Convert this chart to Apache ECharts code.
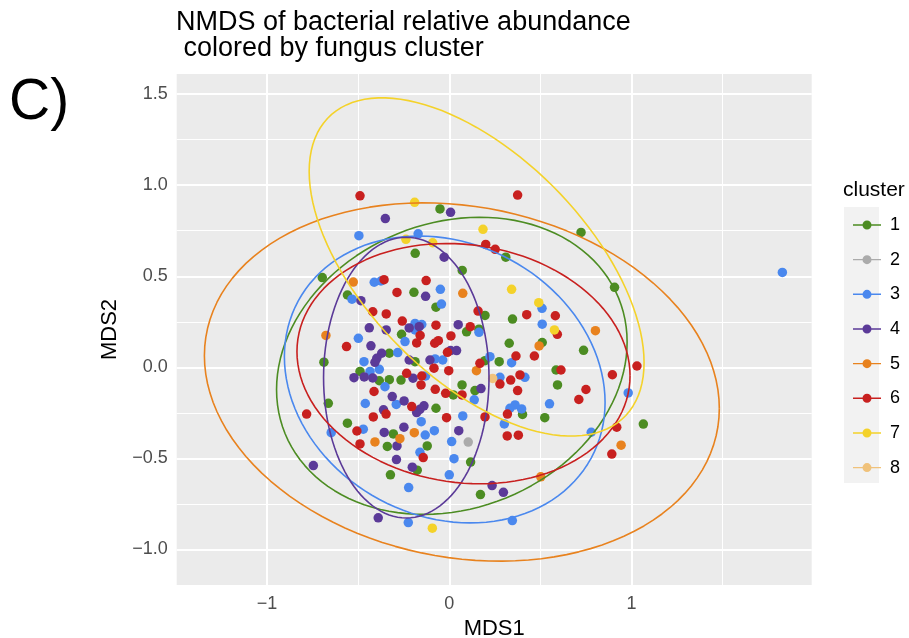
<!DOCTYPE html>
<html>
<head>
<meta charset="utf-8">
<script src="https://cdn.jsdelivr.net/npm/echarts@6/dist/echarts.min.js"></script>
<style>
html,body{margin:0;padding:0;background:#fff;}
#chart{width:909px;height:638px;}
</style>
</head>
<body>
<div id="chart"></div>
<script>
// ---- data (MDS1, MDS2) per fungus cluster ----
const CLUSTERS = ['1','2','3','4','5','6','7','8'];
const COLORS = ['#4C8C22','#ABABAB','#4A88EE','#5B3A98','#E8821E','#C8201F','#F4D22A','#F0C27B'];

const CLUSTER_1 = [[-0.697,0.493],[-0.559,0.397],[-0.688,0.028],[-0.664,-0.198],[-0.559,-0.307],[-0.490,-0.023],[-0.384,-0.074],[-0.329,-0.068],[-0.329,0.077],[-0.265,-0.070],[-0.307,-0.366],[-0.340,-0.435],[-0.323,-0.591],[-0.051,0.870],[-0.187,0.626],[0.071,0.532],[-0.194,0.412],[-0.073,0.330],[-0.262,0.181],[0.095,0.195],[-0.188,0.031],[0.070,-0.097],[0.022,-0.152],[0.141,-0.128],[-0.073,-0.225],[-0.121,-0.432],[-0.176,-0.565],[0.117,-0.521],[0.171,-0.699],[0.196,0.285],[0.347,0.265],[0.163,0.209],[0.196,0.036],[0.274,0.031],[0.329,0.132],[0.510,0.136],[0.737,0.093],[0.586,-0.015],[0.594,-0.097],[0.402,-0.259],[0.524,-0.277],[0.310,0.605],[0.723,0.741],[0.907,0.439],[1.065,-0.312]];
const CLUSTER_2 = [[0.104,-0.411]];
const CLUSTER_3 = [[-0.496,0.723],[-0.412,0.467],[-0.375,0.474],[-0.534,0.374],[-0.499,0.159],[-0.283,0.081],[-0.468,0.031],[-0.435,-0.023],[-0.384,-0.011],[-0.353,-0.107],[-0.461,-0.199],[-0.291,-0.204],[-0.472,-0.340],[-0.648,-0.359],[-0.171,0.733],[-0.049,0.428],[-0.043,0.347],[-0.188,0.241],[-0.151,0.235],[-0.188,0.205],[-0.243,0.141],[-0.078,0.046],[-0.036,0.040],[-0.130,-0.048],[0.074,-0.267],[-0.154,-0.299],[-0.132,-0.372],[-0.082,-0.348],[0.013,-0.408],[-0.161,-0.467],[0.026,-0.502],[0.000,-0.591],[-0.223,-0.661],[-0.225,-0.853],[0.163,0.192],[0.223,0.058],[0.342,0.025],[0.278,-0.055],[0.415,-0.055],[0.137,-0.179],[0.361,-0.207],[0.333,-0.225],[0.397,-0.229],[0.550,-0.201],[0.509,0.324],[0.510,0.237],[0.302,-0.311],[0.779,-0.357],[0.982,-0.141],[0.346,-0.842],[1.828,0.521]];
const CLUSTER_4 = [[-0.351,0.817],[0.007,0.851],[-0.028,0.605],[-0.485,0.366],[-0.439,0.217],[-0.346,0.205],[-0.430,0.118],[-0.371,0.077],[-0.398,0.049],[-0.408,0.027],[-0.523,-0.057],[-0.467,-0.053],[-0.420,-0.059],[-0.361,-0.234],[-0.357,-0.358],[-0.287,-0.432],[-0.290,-0.507],[-0.746,-0.540],[-0.390,-0.827],[-0.130,0.390],[-0.220,0.216],[-0.165,0.223],[0.049,0.234],[0.007,0.092],[0.040,0.092],[-0.220,0.040],[-0.106,0.040],[-0.199,-0.060],[-0.313,-0.161],[-0.248,-0.185],[-0.139,-0.212],[-0.161,-0.231],[-0.179,-0.249],[-0.249,-0.329],[0.052,-0.348],[-0.203,-0.549],[0.174,-0.117],[0.235,-0.650],[0.297,-0.687]];
const CLUSTER_5 = [[-0.527,0.468],[-0.677,0.175],[-0.408,-0.410],[-0.271,-0.392],[-0.192,-0.359],[0.074,0.406],[0.149,-0.019],[0.493,0.117],[0.802,0.201],[0.943,-0.428],[0.502,-0.602]];
const CLUSTER_6 = [[-0.490,0.942],[0.375,0.946],[-0.358,0.481],[-0.127,0.476],[-0.287,0.411],[-0.420,0.305],[-0.346,0.293],[-0.258,0.254],[-0.564,0.114],[-0.413,-0.133],[-0.347,-0.257],[-0.417,-0.273],[-0.783,-0.257],[-0.507,-0.350],[-0.490,-0.421],[-0.073,0.231],[-0.160,0.175],[-0.179,0.134],[-0.080,0.132],[-0.060,0.146],[0.009,0.172],[-0.010,0.082],[0.115,0.223],[0.158,0.309],[-0.084,-0.005],[-0.003,-0.019],[-0.234,-0.033],[-0.151,-0.048],[-0.155,-0.097],[-0.077,-0.121],[-0.020,-0.143],[0.070,-0.152],[-0.206,-0.216],[-0.015,-0.277],[-0.143,-0.496],[0.425,0.289],[0.582,0.283],[0.593,0.181],[0.366,0.062],[0.467,0.062],[0.168,0.022],[0.613,-0.015],[0.895,-0.041],[1.030,0.007],[0.388,-0.042],[0.337,-0.070],[0.278,-0.092],[0.375,-0.128],[0.750,-0.122],[0.711,-0.177],[0.319,-0.257],[0.196,-0.273],[0.318,-0.377],[0.379,-0.373],[0.919,-0.329],[0.892,-0.477],[0.200,0.675],[0.252,0.648]];
const CLUSTER_7 = [[-0.190,0.906],[-0.238,0.703],[-0.091,0.684],[0.185,0.758],[0.342,0.428],[0.491,0.355],[0.577,0.205],[-0.093,-0.884]];
const CLUSTER_8 = [[0.238,-0.061]];
const CLUSTER_POINTS = [CLUSTER_1,CLUSTER_2,CLUSTER_3,CLUSTER_4,CLUSTER_5,CLUSTER_6,CLUSTER_7,CLUSTER_8];

// 95% ellipses: centre, half-extent in x and y, correlation
const ELLIPSE_CLUSTER = ['1','3','4','5','6','7'];
const ELLIPSE_CX = [0.014,-0.025,-0.236,0.069,0.078,0.150];
const ELLIPSE_CY = [0.008,-0.067,-0.057,-0.081,0.020,0.551];
const ELLIPSE_SX = [0.962,0.880,0.454,1.413,0.914,0.919];
const ELLIPSE_SY = [0.816,0.788,0.771,0.984,0.660,0.929];
const ELLIPSE_R  = [0.16,-0.16,0.0,-0.147,-0.10,-0.565];

// axes
const X_MIN = -1.496, X_MAX = 1.989, Y_MIN = -1.196, Y_MAX = 1.611;
const X_TICKS = [-1,0,1];
const X_MINOR = [-0.5,0.5,1.5];
const Y_TICKS = [-1,-0.5,0,0.5,1,1.5];
const Y_MINOR = [-0.75,-0.25,0.25,0.75,1.25];

const FONT = '"Liberation Sans", Arial, Helvetica, sans-serif';

function ellipsePath(i){
  const pts = [];
  const n = 120;
  const cx = ELLIPSE_CX[i], cy = ELLIPSE_CY[i], sx = ELLIPSE_SX[i], sy = ELLIPSE_SY[i], r = ELLIPSE_R[i];
  const q = Math.sqrt(1 - r*r);
  for (let k = 0; k <= n; k++){
    const t = 2*Math.PI*k/n;
    pts.push([cx + sx*Math.cos(t), cy + sy*(r*Math.cos(t) + q*Math.sin(t))]);
  }
  return pts;
}

const series = [];
// grid lines
const gridLines = [];
X_MINOR.forEach(v => gridLines.push({xAxis: v, lineStyle:{width:1}}));
Y_MINOR.forEach(v => gridLines.push({yAxis: v, lineStyle:{width:1}}));
X_TICKS.forEach(v => gridLines.push({xAxis: v, lineStyle:{width:2}}));
Y_TICKS.forEach(v => gridLines.push({yAxis: v, lineStyle:{width:2}}));
series.push({
  type:'scatter', name:'__grid', data:[], silent:true, z:1,
  markLine:{
    z:1, silent:true, symbol:['none','none'], animation:false,
    label:{show:false},
    lineStyle:{color:'#FFFFFF', type:'solid'},
    data: gridLines
  }
});

CLUSTERS.forEach((c, i) => {
  series.push({
    type:'scatter', name:c, data: CLUSTER_POINTS[i],
    symbol:'circle', symbolSize:9.5, z:3,
    itemStyle:{color: COLORS[i], opacity:1},
    emphasis:{disabled:true}
  });
});
ELLIPSE_CLUSTER.forEach((c, i) => {
  const ci = CLUSTERS.indexOf(c);
  series.push({
    type:'line', name:c, data: ellipsePath(i), showSymbol:false, symbol:'none',
    smooth:false, z:4, clip:true,
    lineStyle:{color: COLORS[ci], width:1.6},
    itemStyle:{color: COLORS[ci]},
    emphasis:{disabled:true}
  });
});

const legendIcon = 'path://M0 3.8L28 3.8L28 5.2L0 5.2Z M9.5 4.5A4.5 4.5 0 1 1 18.5 4.5A4.5 4.5 0 1 1 9.5 4.5Z';

const option = {
  animation:false,
  backgroundColor:'#FFFFFF',
  title:[
    {text:'NMDS of bacterial relative abundance\n colored by fungus cluster', left:171, top:5,
     textStyle:{fontFamily:FONT, fontSize:27, fontWeight:'normal', color:'#000', lineHeight:26}},
    {text:'C)', left:4, top:70,
     textStyle:{fontFamily:FONT, fontSize:57, fontWeight:'normal', color:'#000'}},
    {text:'cluster', left:838, top:175,
     textStyle:{fontFamily:FONT, fontSize:21, fontWeight:'normal', color:'#000'}}
  ],
  graphic:[
    {type:'rect', left:844, top:207, shape:{width:35, height:276}, style:{fill:'#F2F2F2'}, z:-1}
  ],
  legend:{
    orient:'vertical', left:848, top:211, selectedMode:false,
    itemWidth:28, itemHeight:9, itemGap:16.66,
    data: CLUSTERS.map((c,i) => ({name:c, icon:legendIcon, itemStyle:{color:COLORS[i]}})),
    textStyle:{fontFamily:FONT, fontSize:18, color:'#000', lineHeight:18, padding:[0,0,0,4]}
  },
  grid:{left:176.7, right:97.3, top:74, bottom:53, show:true, backgroundColor:'#EBEBEB', borderWidth:0,
        containLabel:false, outerBoundsMode:'none'},
  xAxis:{
    type:'value', min:X_MIN, max:X_MAX,
    splitLine:{show:false}, axisLine:{show:false},
    axisTick:{show:true, customValues:X_TICKS, length:5, lineStyle:{color:'#333333', width:1}},
    axisLabel:{customValues:X_TICKS, margin:10, color:'#4D4D4D', fontFamily:FONT, fontSize:18,
      formatter: v => String(v).replace('-', '\u2212')},
    name:'MDS1', nameLocation:'middle', nameGap:32,
    nameTextStyle:{fontFamily:FONT, fontSize:22, color:'#000'}
  },
  yAxis:{
    type:'value', min:Y_MIN, max:Y_MAX,
    splitLine:{show:false}, axisLine:{show:false},
    axisTick:{show:true, customValues:Y_TICKS, length:5, lineStyle:{color:'#333333', width:1}},
    axisLabel:{customValues:Y_TICKS, margin:9, color:'#4D4D4D', fontFamily:FONT, fontSize:18,
      formatter: v => v.toFixed(1).replace('-', '\u2212')},
    name:'MDS2', nameLocation:'middle', nameGap:50, nameRotate:90,
    nameTextStyle:{fontFamily:FONT, fontSize:22, color:'#000'}
  },
  series: series
};

const chart = echarts.init(document.getElementById('chart'), null, {renderer:'canvas'});
chart.setOption(option);
</script>
</body>
</html>
